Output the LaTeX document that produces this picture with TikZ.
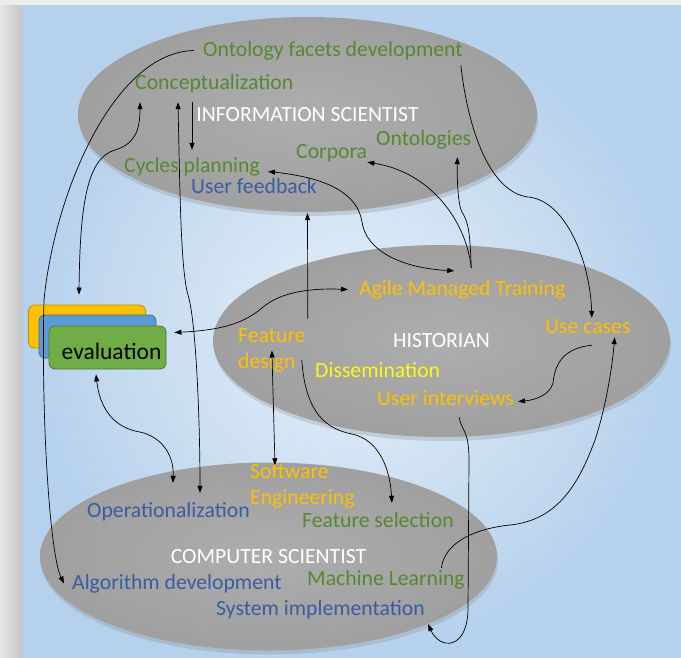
\documentclass[tikz,border=0pt]{standalone}
\usepackage{fontspec}
\setmainfont{Carlito}
\usetikzlibrary{arrows.meta,shapes.geometric,shadows}

\definecolor{leafgreen}{HTML}{56892F}
\definecolor{inkblue}{HTML}{3A5CA3}
\definecolor{amber}{HTML}{FFC000}
\definecolor{lemon}{HTML}{FAFA14}
\definecolor{skyedge}{HTML}{B6D1EC}
\definecolor{skymid}{HTML}{E6F0F9}
\definecolor{boxblue}{HTML}{5B9BD5}
\definecolor{boxgreen}{HTML}{70AD47}

\tikzset{
  role/.style={ellipse,inner sep=0pt,shade,inner color=gray!64,outer color=gray!75,
    drop shadow={opacity=.25,shadow xshift=1pt,shadow yshift=-4pt},text=white},
  txt/.style={inner sep=0pt,anchor=base west,text height=15pt,text depth=4pt},
  twoline/.style={inner sep=0pt,align=left,anchor=west},
  card/.style={rounded corners=6pt,minimum width=117pt,minimum height=43pt,line width=.8pt},
  link/.style={line width=.7pt,-{Triangle[length=7pt,width=5pt]}},
  both/.style={line width=.7pt,{Triangle[length=7pt,width=5pt]}-{Triangle[length=7pt,width=5pt]}}
}

\begin{document}
\begin{tikzpicture}[x=1pt,y=-1pt,font=\fontsize{21.7}{25.5}\selectfont]

%Backdrop - panel and its left shadow
\fill[gray!15] (0,0) rectangle (681,657);
\shade[left color=gray!20,right color=gray!45] (0,5) rectangle (22,657);
\shade[inner color=skymid,outer color=skyedge] (22,5) rectangle (681,657);
\useasboundingbox (0,0) rectangle (681,657);

%The three roles
\node[role,minimum width=459pt,minimum height=195pt] (info) at (307.5,114.5) {INFORMATION SCIENTIST};
\node[role,minimum width=457pt,minimum height=192pt] (hist) at (441.5,341) {HISTORIAN};
\node[role,minimum width=457pt,minimum height=188pt] (comp) at (268.5,556.5) {COMPUTER SCIENTIST};

%evaluation cards - back to front
\node[card,fill=amber,draw=amber!75!black] (evalY) at (87,326.5) {};
\node[card,fill=boxblue,draw=boxblue!70!black] (evalB) at (97.5,336.5) {};
\node[card,fill=boxgreen,draw=boxgreen!70!black] (evalG) at (107.5,347.5) {};
\node[inner sep=0pt,anchor=base,font=\fontsize{23.5}{28}\selectfont] (evaltxt) at (111.5,359) {evaluation};

%Labels
\foreach \n/\x/\y/\t in {facets/203/56/Ontology facets development,concept/135/89/Conceptualization,ontol/376/145/Ontologies,corpora/296/158/Corpora,cycles/124/172/Cycles planning,featsel/302/527/Feature selection,machine/307/585/Machine Learning} \node[txt,text=leafgreen] (\n) at (\x,\y) {\t};
\foreach \n/\x/\y/\t in {feedback/191/193/User feedback,operat/87/517/Operationalization,algo/72/589/Algorithm development,sysimpl/216/615/System implementation} \node[txt,text=inkblue] (\n) at (\x,\y) {\t};
\foreach \n/\x/\y/\t in {agile/359/295/Agile Managed Training,usecases/545/333/Use cases,interviews/377/405/User interviews} \node[txt,text=amber] (\n) at (\x,\y) {\t};
\node[txt,text=lemon] (dissem) at (315,377) {Dissemination};
\node[twoline,text=amber] (featdes) at (238,350.5) {Feature\\design};
\node[twoline,text=amber] (softeng) at (250,486) {Software\\Engineering};

%Connectors
\draw[link] ([xshift=-9pt]facets.west) .. controls (115,52) and (55,190) .. (44,300) .. controls (41,420) and (50,555) .. ([xshift=-8pt]algo.west);
\draw[both] ([shift={(-8pt,10pt)}]evalY.north) .. controls (80,200) and (88,158) .. (115,150) .. controls (135,144) and (140,130) .. ([shift={(5pt,-9pt)}]concept.south west);
\draw[both] ([shift={(43pt,-9pt)}]concept.south west) .. controls (180,200) and (181,270) .. (188,295) .. controls (196,320) and (200,420) .. ([shift={(113pt,9pt)}]operat.north west);
\draw[link] ([shift={(57pt,-9pt)}]concept.south west) -- ([shift={(68pt,7pt)}]cycles.north west);
\draw[link] ([shift={(2pt,10pt)}]featdes.north east) -- ([yshift=-1pt]info.south);
\draw[both] ([shift={(8pt,-5pt)}]cycles.east) .. controls (330,178) and (358,195) .. (362,222) .. controls (366,250) and (400,268) .. ([shift={(-8pt,9pt)}]agile.north);
\coordinate (fork) at ([shift={(9pt,12pt)}]agile.north);
\draw[link] (fork) .. controls (466,220) and (430,172) .. (corpora.south east);
\draw[link] (fork) .. controls (470,230) and (468,222) .. (462,212) .. controls (458,205) and (457,180) .. ([shift={(-14pt,-8pt)}]ontol.south east);
\draw[link] ([shift={(-2pt,-5pt)}]facets.south east) .. controls (468,130) and (490,192) .. (528,197) .. controls (565,200) and (590,260) .. ([xshift=4pt]usecases.north);
\draw[link] ([shift={(4pt,-8pt)}]usecases.south) .. controls (565,348) and (555,362) .. (553,383) .. controls (550,395) and (535,400) .. ([shift={(4pt,-2pt)}]interviews.east);
\draw[both] ([shift={(8pt,15pt)}]evalG.east) .. controls (225,330) and (245,322) .. (262,308) .. controls (280,292) and (310,288) .. ([xshift=-11pt]agile.west);
\draw[both] ([shift={(-11.5pt,-5pt)}]evalG.south) .. controls (100,410) and (115,428) .. (140,432) .. controls (162,437) and (174,455) .. ([shift={(4.5pt,19pt)}]operat.north);
\draw[both] (featdes.center) -- ([shift={(25pt,-1.5pt)}]softeng.north west);
\draw[link] ([shift={(-4pt,-9.5pt)}]featdes.east) .. controls (305,405) and (320,428) .. (352,434) .. controls (380,440) and (390,470) .. ([shift={(14pt,9pt)}]featsel.north);
\draw[link] ([shift={(13.5pt,-8pt)}]interviews.south) .. controls (462,432) and (469,430) .. (469,460) -- (468,610) .. controls (467,650) and (440,650) .. ([shift={(3pt,-5pt)}]sysimpl.south east);
\draw[link] ([shift={(-23.5pt,2pt)}]machine.north east) .. controls (445,540) and (480,528) .. (510,525) .. controls (560,520) and (580,480) .. (595,440) .. controls (605,410) and (612,370) .. ([xshift=-16pt]usecases.south east);

\end{tikzpicture}
\end{document}
